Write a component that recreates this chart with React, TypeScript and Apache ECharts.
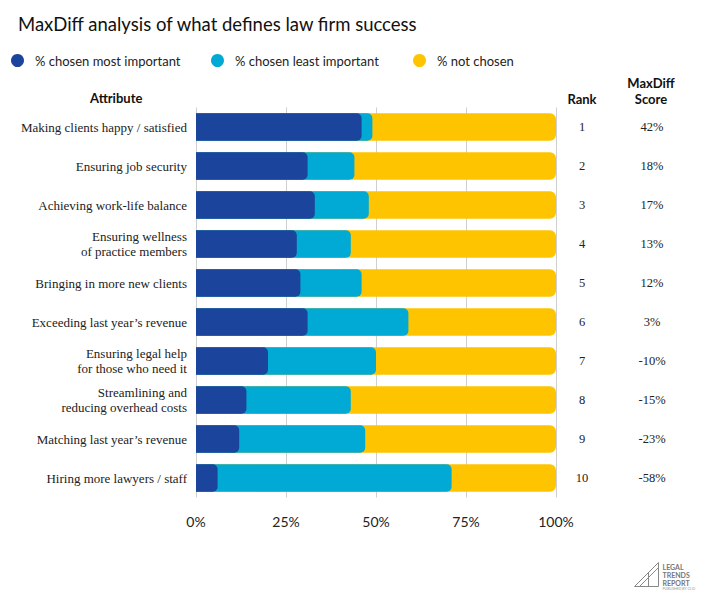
import React, { useEffect, useRef } from "react";
import * as echarts from "echarts";

const categories = [
  "Making clients happy / satisfied",
  "Ensuring job security",
  "Achieving work-life balance",
  "Ensuring wellness\nof practice members",
  "Bringing in more new clients",
  "Exceeding last year’s revenue",
  "Ensuring legal help\nfor those who need it",
  "Streamlining and\nreducing overhead costs",
  "Matching last year’s revenue",
  "Hiring more lawyers / staff",
];
const mostImportant = [46, 31, 33, 28, 29, 31, 20, 14, 12, 6];
const leastImportant = [3, 13, 15, 15, 17, 28, 30, 29, 35, 65];
const notChosen = [51, 56, 52, 57, 54, 41, 50, 57, 53, 29];
const ranks = ["1", "2", "3", "4", "5", "6", "7", "8", "9", "10"];
const scores = ["42%", "18%", "17%", "13%", "12%", "3%", "-10%", "-15%", "-23%", "-58%"];
const xTicks = [0, 25, 50, 75, 100];

const NAMES = ["% chosen most important", "% chosen least important", "% not chosen"];
const COLORS = ["#1b449c", "#00aad4", "#ffc400"];
const SANS = "Lato, 'Noto Sans', sans-serif";
const SERIF = "'Liberation Serif', 'DejaVu Serif', serif";

export default function App() {
  const ref = useRef<HTMLDivElement>(null);
  useEffect(() => {
    const chart = echarts.init(ref.current!, null, { renderer: "svg" });
    // overlay bars: cumulative ends so rounded segments sit on top of each other
    const endMost = mostImportant.map((v) => v);
    const endLeast = mostImportant.map((v, i) => v + leastImportant[i]);
    const endAll = mostImportant.map((v, i) => v + leastImportant[i] + notChosen[i]);
    const legendBase = {
      top: 49,
      icon: "circle",
      itemWidth: 25,
      itemHeight: 13,
      textStyle: { fontSize: 13, color: "#222", fontFamily: SANS },
      selectedMode: false,
    };
    chart.setOption({
      animation: false,
      title: {
        text: "MaxDiff analysis of what defines law firm success",
        left: 13,
        top: 9,
        textStyle: { fontSize: 18.5, fontWeight: "normal", color: "#111", fontFamily: SANS },
      },
      legend: [
        { ...legendBase, left: 6, data: [NAMES[0]] },
        { ...legendBase, left: 206, data: [NAMES[1]] },
        { ...legendBase, left: 408, data: [NAMES[2]] },
      ],
      grid: { left: 196, right: 160, top: 107.5, bottom: 105.5 },
      xAxis: {
        type: "value",
        min: xTicks[0],
        max: xTicks[xTicks.length - 1],
        interval: 25,
        axisLine: { show: false },
        axisTick: { show: false },
        splitLine: { show: true, lineStyle: { color: "#cfcfcf", width: 1 } },
        axisLabel: {
          formatter: "{value}%",
          margin: 17,
          fontSize: 14,
          color: "#222",
          fontFamily: SANS,
        },
      },
      yAxis: [
        {
          type: "category",
          inverse: true,
          data: categories,
          axisLine: { show: false },
          axisTick: { show: false },
          axisLabel: { margin: 9, fontSize: 13, lineHeight: 15, color: "#222", fontFamily: SERIF },
        },
        {
          type: "category",
          inverse: true,
          position: "right",
          data: ranks,
          axisLine: { show: false },
          axisTick: { show: false },
          axisLabel: { margin: 26, align: "center", fontSize: 12.5, color: "#222", fontFamily: SERIF },
        },
        {
          type: "category",
          inverse: true,
          position: "right",
          data: scores,
          axisLine: { show: false },
          axisTick: { show: false },
          axisLabel: { margin: 96, align: "center", fontSize: 12.5, color: "#222", fontFamily: SERIF },
        },
      ],
      series: [
        {
          name: NAMES[2],
          type: "bar",
          data: endAll,
          barWidth: 27.5,
          barGap: "-100%",
          itemStyle: { color: COLORS[2], borderRadius: [0, 6, 6, 0] },
          z: 2,
        },
        {
          name: NAMES[1],
          type: "bar",
          data: endLeast,
          barWidth: 27.5,
          barGap: "-100%",
          itemStyle: { color: COLORS[1], borderRadius: [0, 5, 5, 0] },
          z: 3,
        },
        {
          name: NAMES[0],
          type: "bar",
          data: endMost,
          barWidth: 27.5,
          barGap: "-100%",
          itemStyle: { color: COLORS[0], borderRadius: [0, 5, 5, 0] },
          z: 4,
        },
      ],
      graphic: [
        {
          type: "text",
          left: 90,
          top: 91,
          style: { text: "Attribute", fontSize: 13, fontWeight: "bold", fill: "#111", fontFamily: SANS },
        },
        {
          type: "text",
          x: 582,
          y: 99,
          style: { text: "Rank", fontSize: 13, fontWeight: "bold", fill: "#111", fontFamily: SANS, align: "center", verticalAlign: "middle" },
        },
        {
          type: "text",
          x: 651,
          y: 91,
          style: { text: "MaxDiff\nScore", fontSize: 13, lineHeight: 16, fontWeight: "bold", fill: "#111", fontFamily: SANS, align: "center", verticalAlign: "middle" },
        },
        {
          type: "group",
          left: 632,
          top: 560,
          children: [
            { type: "polyline", shape: { points: [[0, 26], [24, 2], [24, 26], [0, 26]] }, style: { stroke: "#888", fill: "none", lineWidth: 1 } },
            { type: "line", shape: { x1: 5, y1: 26, x2: 24, y2: 7 }, style: { stroke: "#888", lineWidth: 1 } },
            { type: "line", shape: { x1: 14, y1: 26, x2: 14, y2: 12 }, style: { stroke: "#888", lineWidth: 1 } },
            { type: "text", x: 28, y: 2, style: { text: "LEGAL\nTRENDS\nREPORT", fontSize: 7, lineHeight: 8, fontWeight: "bold", fill: "#777", fontFamily: SANS } },
            { type: "text", x: 28, y: 26, style: { text: "PUBLISHED BY CLIO", fontSize: 3.5, fill: "#999", fontFamily: SANS } },
          ],
        },
      ],
    });
    return () => chart.dispose();
  }, []);
  return (
    <div
      ref={ref}
      style={{ position: "fixed", left: 0, top: 0, width: 716, height: 603, background: "#fff" }}
    />
  );
}
